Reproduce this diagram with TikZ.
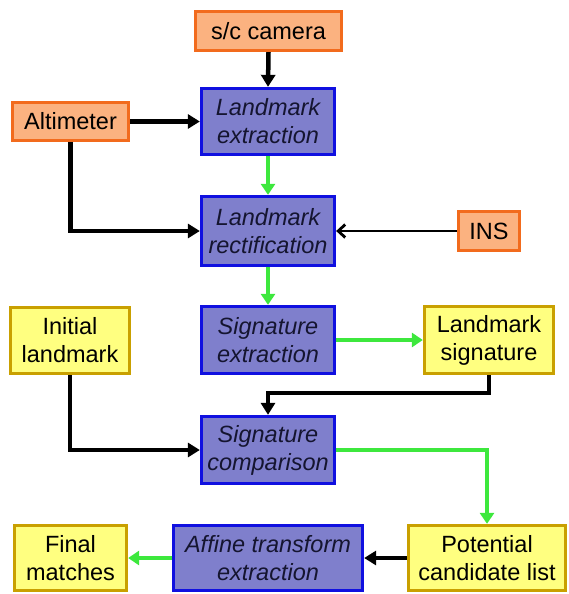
\documentclass[tikz,border=0pt]{standalone}
\usepackage{fontspec}
\setmainfont{Liberation Sans}
\usetikzlibrary{arrows.meta}
\definecolor{ofill}{HTML}{FBB280}
\definecolor{oline}{HTML}{F26B1D}
\definecolor{bfill}{HTML}{7F7FCC}
\definecolor{bline}{HTML}{1010E0}
\definecolor{yfill}{HTML}{FFFF80}
\definecolor{yline}{HTML}{C9A000}
\definecolor{garrow}{HTML}{3DE83D}
\definecolor{btext}{HTML}{151530}
\tikzset{
  box/.style={draw, line width=3.3pt, inner sep=0pt, align=center, font=\fontsize{23.5}{28}\selectfont},
  obox/.style={box, fill=ofill, draw=oline},
  bbox/.style={box, fill=bfill, draw=bline, font=\fontsize{23.5}{28}\selectfont\itshape, text=btext},
  ybox/.style={box, fill=yfill, draw=yline},
  blk/.style={line width=4.5pt, -{Triangle[length=12pt,width=14pt]}},
  grn/.style={line width=4.5pt, draw=garrow, -{Triangle[length=11pt,width=14pt]}, color=garrow},
  thin/.style={line width=2.8pt, -{Straight Barb[length=7pt,width=13pt]}}
}
\begin{document}
\begin{tikzpicture}[x=1pt,y=-1pt]
\useasboundingbox (0,0) rectangle (568,594);
\node[obox, minimum width=146pt, minimum height=39pt] (cam) at (268.5,31) {s/c camera};
\node[bbox, minimum width=133pt, minimum height=66pt] (le) at (268,121.5) {Landmark\\extraction};
\node[obox, minimum width=116pt, minimum height=38pt] (alt) at (70.5,121.5) {Altimeter};
\node[bbox, minimum width=133pt, minimum height=69pt] (lr) at (268,231) {Landmark\\rectification};
\node[obox, minimum width=61pt, minimum height=39pt] (ins) at (489,231) {INS};
\node[bbox, minimum width=133pt, minimum height=67pt] (se) at (268,340) {Signature\\extraction};
\node[ybox, minimum width=119pt, minimum height=66pt] (il) at (70,340.5) {Initial\\landmark};
\node[ybox, minimum width=129pt, minimum height=67pt] (ls) at (489,340) {Landmark\\signature};
\node[bbox, minimum width=133pt, minimum height=67pt] (sc) at (268,450) {Signature\\comparison};
\node[bbox, minimum width=189pt, minimum height=65pt] (ate) at (268,558) {Affine transform\\extraction};
\node[ybox, minimum width=157pt, minimum height=65pt] (pcl) at (487,558) {Potential\\candidate list};
\node[ybox, minimum width=112pt, minimum height=65pt] (fm) at (70.5,558) {Final\\matches};
\coordinate (lsturn) at (489,393);
\draw[blk] (cam.south) -- (le.north);
\draw[blk] (alt.east) -- (le.west);
\draw[blk] (alt.south) |- (lr.west);
\draw[grn] (le.south) -- (lr.north);
\draw[thin] (ins.west) -- (lr.east);
\draw[grn] (lr.south) -- (se.north);
\draw[grn] (se.east) -- (ls.west);
\draw[blk] (ls.south) -- (lsturn) -| (sc.north);
\draw[blk] (il.south) |- (sc.west);
\draw[grn] (sc.east) -| (pcl.north);
\draw[blk] (pcl.west) -- (ate.east);
\draw[grn] (ate.west) -- (fm.east);
\end{tikzpicture}
\end{document}
